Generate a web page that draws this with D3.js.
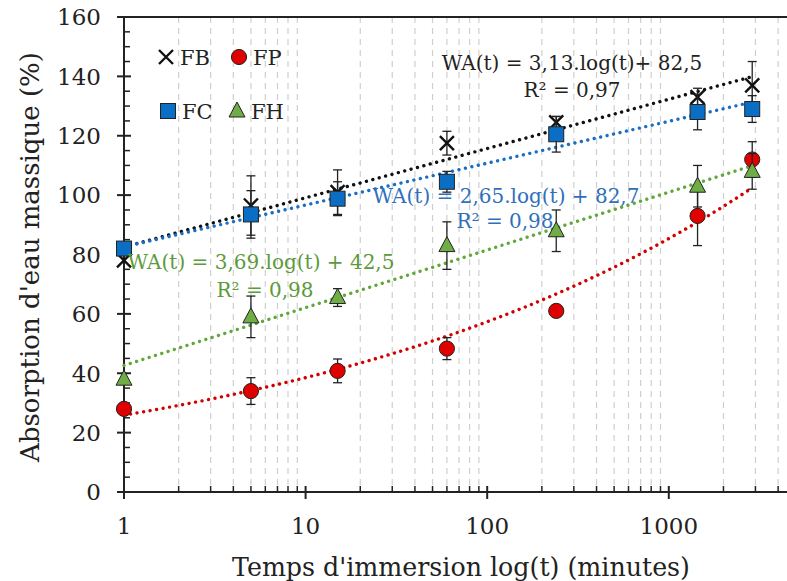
<!DOCTYPE html>
<html><head><meta charset="utf-8">
<script src="https://cdn.jsdelivr.net/npm/d3@7"></script>
<style>body{margin:0;background:#fff;} svg{display:block;}</style>
</head><body>
<svg id="chart" width="787" height="581"></svg>
<script>
// ---- data ----
const times = [1, 5, 15, 60, 240, 1440, 2880];
const seriesNames = ["FB", "FP", "FC", "FH"];
const fbValues = [78, 96.5, 101, 117.5, 124.5, 133, 137];
const fbErrors = [0, 10, 7.5, 4, 2, 3, 8];
const fpValues = [28, 34, 40.8, 48.3, 61, 93, 112];
const fpErrors = [0, 4.5, 4, 3.7, 1.5, 10, 6];
const fcValues = [82, 93.5, 98.8, 104.5, 120.5, 128, 129];
const fcErrors = [0, 8, 5.7, 3.5, 6, 6, 4.5];
const fhValues = [38, 59, 65.5, 83, 88, 103, 108];
const fhErrors = [0, 7, 3, 8, 7, 7, 6];
const yTicks = [0, 20, 40, 60, 80, 100, 120, 140, 160];
const xTicks = [1, 10, 100, 1000];
const eqFB = ["WA(t) = 3,13.log(t)+ 82,5", "R² = 0,97"];
const eqFC = ["WA(t) = 2,65.log(t) + 82,7", "R² = 0,98"];
const eqFH = ["WA(t) = 3,69.log(t) + 42,5", "R² = 0,98"];
const xTitle = "Temps d'immersion log(t) (minutes)";
const yTitle = "Absorption d'eau massique (%)";

const FONT = "'DejaVu Serif', serif";
const svg = d3.select("#chart");
const x = d3.scaleLog().domain([1, 4650]).range([124, 790]);
const y = d3.scaleLinear().domain([0, 160]).range([492, 17]);

// gridlines
const minor = [];
for (let d = 1; d <= 1000; d *= 10) for (let k = 2; k <= 9; k++) if (d * k < 4650) minor.push(d * k);
const majorGrid = minor.filter(v => [10, 100, 1000].includes(v));
const minorGrid = minor.filter(v => ![10, 100, 1000].includes(v));
svg.append("g").selectAll("line").data(minorGrid).join("line")
  .attr("x1", d => x(d)).attr("x2", d => x(d)).attr("y1", y(160)).attr("y2", y(0))
  .attr("stroke", "#cfcfcf").attr("stroke-width", 1.2).attr("stroke-dasharray", "6,5");
svg.append("g").selectAll("line").data(majorGrid).join("line")
  .attr("x1", d => x(d)).attr("x2", d => x(d)).attr("y1", y(160)).attr("y2", y(0))
  .attr("stroke", "#555").attr("stroke-width", 1.6).attr("stroke-dasharray", "6,5");

// axes
const axisColor = "#222";
svg.append("line").attr("x1", 117).attr("x2", 790).attr("y1", y(160)).attr("y2", y(160)).attr("stroke", axisColor).attr("stroke-width", 2);
svg.append("line").attr("x1", 117).attr("x2", 790).attr("y1", y(0)).attr("y2", y(0)).attr("stroke", axisColor).attr("stroke-width", 2);
svg.append("line").attr("x1", x(1)).attr("x2", x(1)).attr("y1", y(160)).attr("y2", y(0) + 6).attr("stroke", axisColor).attr("stroke-width", 2);

// y ticks
const yMinor = d3.range(0, 161, 5).filter(v => v % 20 !== 0);
svg.append("g").selectAll("line").data(yMinor).join("line")
  .attr("x1", x(1)).attr("x2", x(1) + 6).attr("y1", d => y(d)).attr("y2", d => y(d))
  .attr("stroke", axisColor).attr("stroke-width", 1.5);
svg.append("g").selectAll("line").data(yTicks).join("line")
  .attr("x1", x(1) - 7).attr("x2", x(1) + 7).attr("y1", d => y(d)).attr("y2", d => y(d))
  .attr("stroke", axisColor).attr("stroke-width", 2);
svg.append("g").selectAll("text").data(yTicks).join("text")
  .attr("x", 101).attr("y", d => y(d)).attr("dy", "0.36em").attr("text-anchor", "end")
  .attr("font-family", FONT).attr("font-size", 23).attr("fill", "#222").text(d => d);

// x ticks
svg.append("g").selectAll("line").data(minor).join("line")
  .attr("x1", d => x(d)).attr("x2", d => x(d)).attr("y1", y(0)).attr("y2", y(0) - 6)
  .attr("stroke", axisColor).attr("stroke-width", 1.5);
svg.append("g").selectAll("line").data(xTicks).join("line")
  .attr("x1", d => x(d)).attr("x2", d => x(d)).attr("y1", y(0) - 6).attr("y2", y(0) + 7)
  .attr("stroke", axisColor).attr("stroke-width", 2);
svg.append("g").selectAll("text").data(xTicks).join("text")
  .attr("x", d => x(d)).attr("y", 534).attr("text-anchor", "middle")
  .attr("font-family", FONT).attr("font-size", 23).attr("fill", "#222").text(d => d);

// titles
svg.append("text").attr("x", 461).attr("y", 576).attr("text-anchor", "middle")
  .attr("font-family", FONT).attr("font-size", 25.3).attr("fill", "#222").text(xTitle);
svg.append("text").attr("transform", "translate(39,257) rotate(-90)").attr("text-anchor", "middle")
  .attr("font-family", FONT).attr("font-size", 26).attr("fill", "#222").text(yTitle);

// series
const series = [
  {name: seriesNames[0], values: fbValues, errors: fbErrors, fill: "none", shape: "x", fit: "log", line: "#111"},
  {name: seriesNames[1], values: fpValues, errors: fpErrors, fill: "#e00000", shape: "circle", fit: "pow", line: "#d40000"},
  {name: seriesNames[2], values: fcValues, errors: fcErrors, fill: "#0a6fc4", shape: "square", fit: "log", line: "#1a6fc4"},
  {name: seriesNames[3], values: fhValues, errors: fhErrors, fill: "#70ad47", shape: "triangle", fit: "log", line: "#5fa83a"}
];

function regress(xs, ys) {
  const n = xs.length, mx = d3.mean(xs), my = d3.mean(ys);
  let sxy = 0, sxx = 0;
  for (let i = 0; i < n; i++) { sxy += (xs[i] - mx) * (ys[i] - my); sxx += (xs[i] - mx) ** 2; }
  const m = sxy / sxx; return {m, c: my - m * mx};
}

// trend lines (least-squares fits of the data)
const samples = d3.range(0, 101).map(i => Math.exp(Math.log(times[times.length - 1]) * i / 100));
series.forEach(s => {
  const lx = times.map(Math.log);
  let f;
  if (s.fit === "log") { const r = regress(lx, s.values); f = t => r.m * Math.log(t) + r.c; }
  else { const r = regress(lx, s.values.map(Math.log)); f = t => Math.exp(r.c) * Math.pow(t, r.m); }
  svg.append("path").datum(samples)
    .attr("d", d3.line().x(t => x(t)).y(t => y(f(t))))
    .attr("fill", "none").attr("stroke", s.line).attr("stroke-width", 3.4)
    .attr("stroke-linecap", "round").attr("stroke-dasharray", "0.01,6.6");
});

function drawMarker(g, shape, cx, cy, fill) {
  if (shape === "x") {
    const r = 7;
    g.append("path").attr("d", `M${cx - r},${cy - r}L${cx + r},${cy + r}M${cx - r},${cy + r}L${cx + r},${cy - r}`)
      .attr("stroke", "#111").attr("stroke-width", 2.4).attr("fill", "none");
  } else if (shape === "circle") {
    g.append("circle").attr("cx", cx).attr("cy", cy).attr("r", 7.6).attr("fill", fill).attr("stroke", "#222").attr("stroke-width", 1);
  } else if (shape === "square") {
    g.append("rect").attr("x", cx - 7.5).attr("y", cy - 7.5).attr("width", 15).attr("height", 15).attr("fill", fill).attr("stroke", "#222").attr("stroke-width", 1);
  } else {
    const h = 15, w = 16;
    g.append("path").attr("d", `M${cx},${cy - h * 0.6}L${cx + w / 2},${cy + h * 0.4}L${cx - w / 2},${cy + h * 0.4}Z`)
      .attr("fill", fill).attr("stroke", "#222").attr("stroke-width", 1);
  }
}

// error bars + markers
series.forEach(s => {
  const g = svg.append("g");
  times.forEach((t, i) => {
    const e = s.errors[i];
    if (e > 0) {
      const cx = x(t), y1 = y(s.values[i] + e), y2 = y(s.values[i] - e);
      g.append("line").attr("x1", cx).attr("x2", cx).attr("y1", y1).attr("y2", y2).attr("stroke", "#222").attr("stroke-width", 1.3);
      [y1, y2].forEach(yy => g.append("line").attr("x1", cx - 4.5).attr("x2", cx + 4.5).attr("y1", yy).attr("y2", yy).attr("stroke", "#222").attr("stroke-width", 1.3));
    }
    drawMarker(g, s.shape, x(t), y(s.values[i]), s.fill);
  });
});

// legend
const legendPos = [[166, 57], [239, 57], [168, 111], [237, 111]];
series.forEach((s, i) => {
  const [lx, ly] = legendPos[i];
  drawMarker(svg, s.shape, lx, ly, s.fill);
  svg.append("text").attr("x", lx + 14).attr("y", ly).attr("dy", "0.36em")
    .attr("font-family", FONT).attr("font-size", 21).attr("fill", "#222").text(s.name);
});

// equations
function eq(lines, cx, cy, color) {
  lines.forEach((l, i) => svg.append("text").attr("x", cx[i]).attr("y", cy[i]).attr("text-anchor", "middle")
    .attr("font-family", FONT).attr("font-size", 20).attr("fill", color).text(l));
}
eq(eqFB, [572, 572], [70, 97], "#222");
eq(eqFC, [506, 505], [203, 228], "#2f6fbb");
eq(eqFH, [261, 265], [269, 297], "#5c9a3a");
</script>
</body></html>
